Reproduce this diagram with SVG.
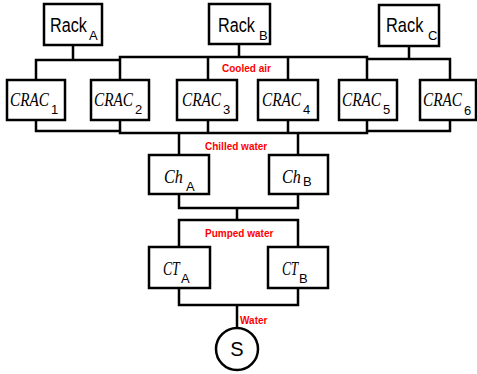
<svg xmlns="http://www.w3.org/2000/svg" width="477" height="374" viewBox="0 0 477 374">
<style>
.box{fill:#fff;stroke:#000;stroke-width:2.5}
.ln{fill:none;stroke:#000;stroke-width:2.5}
.rk{font-family:"Liberation Sans",Arial,sans-serif;font-size:20px;fill:#000}
.sub{font-family:"Liberation Sans",Arial,sans-serif;font-size:13px;fill:#000}
.it{font-family:"Liberation Serif","Times New Roman",serif;font-style:italic;font-size:19px;fill:#000}
.lbl{font-family:"Liberation Sans",Arial,sans-serif;font-weight:bold;font-size:10px;fill:#ff0000}
</style>
<rect width="477" height="374" fill="#fff"/>
<g id="connectors">
<path class="ln" d="M73,45V60M36,80V60H120"/>
<path class="ln" d="M239,44V57M120,80V57H367V80M208,57V80M288,57V80"/>
<path class="ln" d="M409,46V59M367,59H450V80"/>
<path class="ln" d="M36,120V131H120M120,120V133H367V120M208,120V133M288,120V133M367,131H450V120"/>
<path class="ln" d="M179,133V155M298,133V155"/>
<path class="ln" d="M179,194V208H298V194M237,208V220M179,247V220H298V247"/>
<path class="ln" d="M179,288V305H298V288M237,305V328"/>
</g>
<g id="rackA"><rect class="box" x="44" y="4" width="58" height="41"/><text class="rk" transform="matrix(0.81,0,0,1,50,32)">Rack</text><text class="sub" x="89" y="40">A</text></g>
<g id="rackB"><rect class="box" x="209" y="4" width="61" height="40"/><text class="rk" transform="matrix(0.81,0,0,1,218,32)">Rack</text><text class="sub" x="259" y="40">B</text></g>
<g id="rackC"><rect class="box" x="379" y="5" width="60" height="41"/><text class="rk" transform="matrix(0.82,0,0,1,386,32)">Rack</text><text class="sub" x="428" y="40">C</text></g>
<g id="crac1"><rect class="box" x="7" y="80" width="58" height="40"/><text class="it" transform="matrix(0.8,0,0,1,10,106)">CRAC</text><text class="sub" x="51" y="114">1</text></g>
<g id="crac2"><rect class="box" x="91" y="80" width="58" height="40"/><text class="it" transform="matrix(0.8,0,0,1,94,106)">CRAC</text><text class="sub" x="135" y="114">2</text></g>
<g id="crac3"><rect class="box" x="177" y="80" width="60" height="40"/><text class="it" transform="matrix(0.8,0,0,1,182,106)">CRAC</text><text class="sub" x="223" y="114">3</text></g>
<g id="crac4"><rect class="box" x="258" y="80" width="60" height="40"/><text class="it" transform="matrix(0.8,0,0,1,262,106)">CRAC</text><text class="sub" x="303" y="114">4</text></g>
<g id="crac5"><rect class="box" x="339" y="80" width="58" height="40"/><text class="it" transform="matrix(0.8,0,0,1,342,106)">CRAC</text><text class="sub" x="383" y="114">5</text></g>
<g id="crac6"><rect class="box" x="420" y="80" width="56" height="40"/><text class="it" transform="matrix(0.8,0,0,1,423,106)">CRAC</text><text class="sub" x="464" y="115">6</text></g>
<g id="chA"><rect class="box" x="149" y="155" width="60" height="39"/><text class="it" transform="matrix(0.85,0,0,1,164,183)">Ch</text><text class="sub" x="186" y="191">A</text></g>
<g id="chB"><rect class="box" x="269" y="155" width="59" height="39"/><text class="it" transform="matrix(0.85,0,0,1,282,183)">Ch</text><text class="sub" x="303" y="186">B</text></g>
<g id="ctA"><rect class="box" x="149" y="247" width="61" height="41"/><text class="it" transform="matrix(0.72,0,0,1,163,275)">CT</text><text class="sub" x="181" y="283">A</text></g>
<g id="ctB"><rect class="box" x="268" y="247" width="60" height="41"/><text class="it" transform="matrix(0.7,0,0,1,282,275)">CT</text><text class="sub" x="299" y="283">B</text></g>
<g id="S"><circle class="box" cx="237" cy="349" r="21"/><text class="rk" x="237" y="356" text-anchor="middle" font-size="17">S</text></g>
<g id="labels">
<text class="lbl" x="222" y="72">Cooled air</text>
<text class="lbl" x="205" y="150">Chilled water</text>
<text class="lbl" x="205" y="237">Pumped water</text>
<text class="lbl" x="240" y="324">Water</text>
</g>
</svg>
